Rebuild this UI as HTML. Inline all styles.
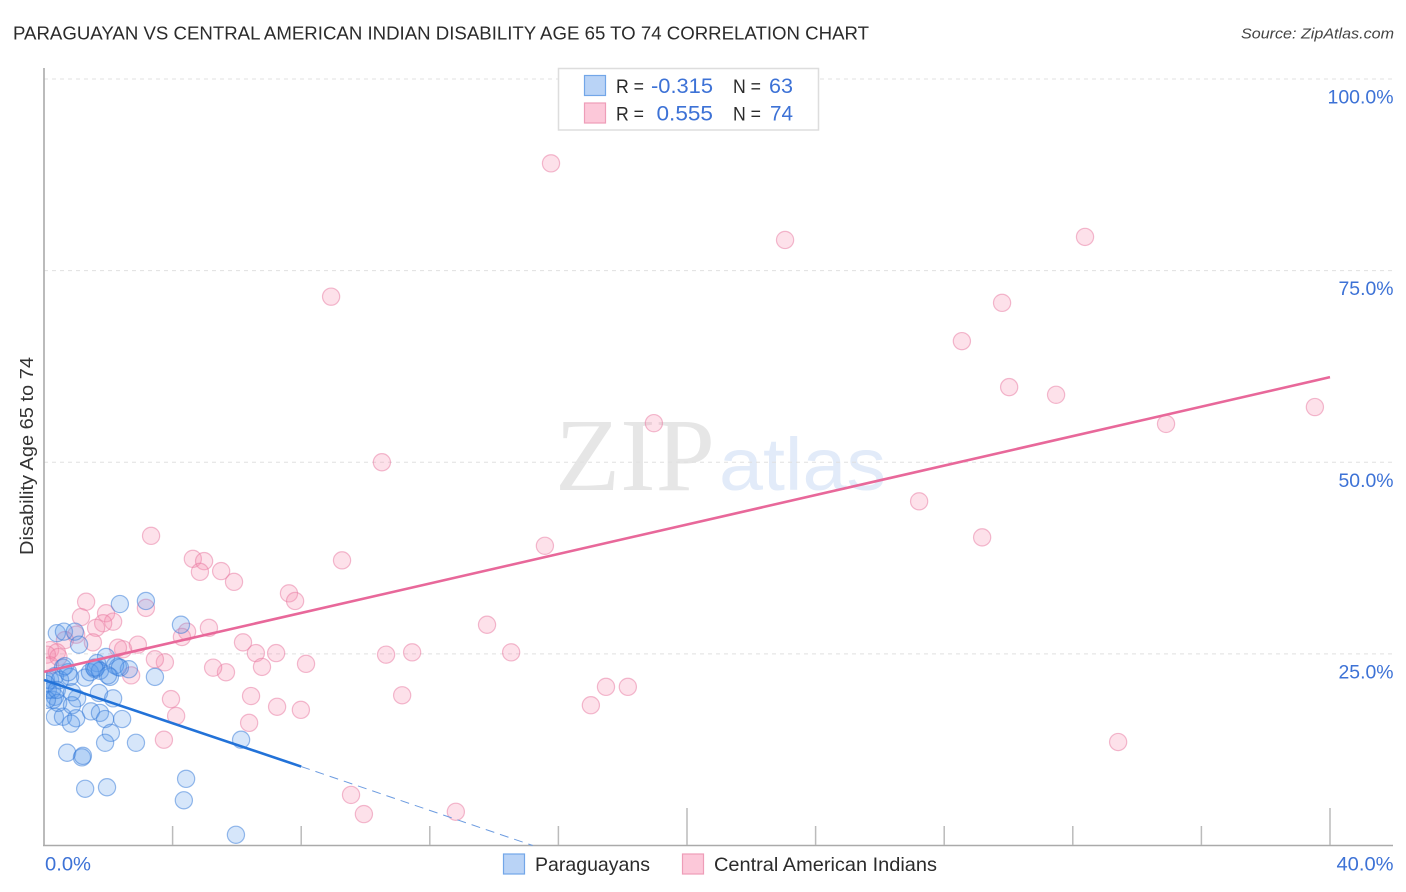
<!DOCTYPE html>
<html lang="en">
<head>
<meta charset="utf-8">
<title>Paraguayan vs Central American Indian Disability Age 65 to 74 Correlation Chart</title>
<style>
html,body{margin:0;padding:0;background:#fff;}
svg{display:block;font-family:"Liberation Sans",Arial,sans-serif;}
</style>
</head>
<body>
<svg id="chart" width="1406" height="892" viewBox="0 0 1406 892" xmlns="http://www.w3.org/2000/svg">
  <defs>
    <clipPath id="plot-clip"><rect x="46" y="60" width="1350" height="785"/></clipPath>
  </defs>
  <rect x="0" y="0" width="1406" height="892" fill="#ffffff"/>
  <text x="13" y="39.5" font-size="18.5" fill="#2b2b2b" textLength="856" lengthAdjust="spacingAndGlyphs">PARAGUAYAN VS CENTRAL AMERICAN INDIAN DISABILITY AGE 65 TO 74 CORRELATION CHART</text>
  <text x="1241" y="38.5" font-size="15" font-style="italic" fill="#444" textLength="153" lengthAdjust="spacingAndGlyphs">Source: ZipAtlas.com</text>

  <g id="watermark">
    <text x="555" y="490" font-family="'Liberation Serif',serif" font-size="104" fill="#e6e6e6" textLength="160" lengthAdjust="spacingAndGlyphs">ZIP</text>
    <text x="719" y="490" font-size="74" fill="#e2ebf9" textLength="167" lengthAdjust="spacingAndGlyphs">atlas</text>
  </g>

  <g id="grid"></g>
  <g id="axes"></g>
  <g clip-path="url(#plot-clip)">
    <g id="points-pink"></g>
    <g id="points-blue"></g>
  </g>
  <g id="lines"></g>
  <g id="labels"></g>

  <text transform="translate(33,456) rotate(-90)" text-anchor="middle" font-size="18" fill="#333" textLength="198" lengthAdjust="spacingAndGlyphs">Disability Age 65 to 74</text>

  <g>
    <rect x="558.5" y="68.5" width="260" height="61.5" fill="#ffffff" stroke="#dddddd" stroke-width="1.5"/>
    <rect x="584.5" y="75.5" width="21" height="20" fill="#b9d3f6" stroke="#72a6e8" stroke-width="1.2"/>
    <rect x="584.5" y="103" width="21" height="20" fill="#fcc8d9" stroke="#ee9db8" stroke-width="1.2"/>
    <text x="616" y="93" font-size="19.5" fill="#2b2b2b" textLength="28" lengthAdjust="spacingAndGlyphs">R =</text>
    <text x="651" y="93" font-size="21" fill="#3d72d6" textLength="62" lengthAdjust="spacingAndGlyphs">-0.315</text>
    <text x="733" y="93" font-size="19.5" fill="#2b2b2b" textLength="28" lengthAdjust="spacingAndGlyphs">N =</text>
    <text x="769" y="93" font-size="21" fill="#3d72d6" textLength="24" lengthAdjust="spacingAndGlyphs">63</text>
    <text x="616" y="120.5" font-size="19.5" fill="#2b2b2b" textLength="28" lengthAdjust="spacingAndGlyphs">R =</text>
    <text x="656.5" y="120.5" font-size="21" fill="#3d72d6" textLength="56.5" lengthAdjust="spacingAndGlyphs">0.555</text>
    <text x="733" y="120.5" font-size="19.5" fill="#2b2b2b" textLength="28" lengthAdjust="spacingAndGlyphs">N =</text>
    <text x="770" y="120.5" font-size="21" fill="#3d72d6" textLength="23" lengthAdjust="spacingAndGlyphs">74</text>
  </g>

  <g>
    <rect x="503.5" y="854" width="21" height="20" fill="#b9d3f6" stroke="#72a6e8" stroke-width="1.2"/>
    <text x="535" y="871" font-size="19.5" fill="#2b2b2b" textLength="115" lengthAdjust="spacingAndGlyphs">Paraguayans</text>
    <rect x="682.5" y="854" width="21" height="20" fill="#fcc8d9" stroke="#ee9db8" stroke-width="1.2"/>
    <text x="714" y="871" font-size="19.5" fill="#2b2b2b" textLength="223" lengthAdjust="spacingAndGlyphs">Central American Indians</text>
  </g>
</svg>

<script>
// ---- chart data (percent units) ----
const yTickValues = [25, 50, 75, 100];
const yTickLabels = ["25.0%", "50.0%", "75.0%", "100.0%"];
const xMinorTicks = [4, 8, 12, 16, 24, 28, 32, 36];
const xMajorTicks = [20, 40];
const xEndLabels = ["0.0%", "40.0%"];

const paraguayansX = [2.36,3.17,4.26,0.40,0.62,0.96,1.09,1.93,1.65,1.59,2.30,2.64,3.45,2.05,1.28,0.59,0.81,1.71,2.15,1.03,0.28,0.34,0.59,1.00,1.46,1.74,1.90,2.43,0.84,2.08,1.90,2.86,0.72,1.18,1.21,1.28,1.96,4.42,4.35,6.13,5.97,0.06,0.19,0.34,0.50,0.12,0.25,0.34,0.06,0.44,0.09,0.87,0.65,0.75,1.43,1.62,1.74,2.21,2.36,1.56,1.99,0.40,0.87];
const paraguayansY = [31.5,31.9,28.8,27.7,27.9,27.9,26.2,24.6,23.8,23.0,23.3,23.0,22.0,22.0,21.9,23.2,22.0,19.9,19.2,19.2,19.0,16.8,16.8,16.6,17.5,17.3,16.5,16.5,15.9,14.7,13.4,13.4,12.1,11.5,11.7,7.4,7.6,8.7,5.9,13.8,1.4,21.6,21.6,22.1,21.6,20.3,20.3,19.4,21.1,18.6,19.0,18.3,23.4,22.6,22.6,23.2,22.8,23.5,23.2,23.2,22.2,20.3,20.0];

const indiansX = [15.77,23.05,32.38,8.93,29.80,28.55,30.02,31.48,39.53,34.90,18.97,10.51,27.22,29.18,3.33,15.58,9.27,4.63,4.98,4.85,5.51,5.91,7.62,7.81,1.31,3.17,1.15,1.93,2.15,1.84,1.62,5.13,4.45,4.29,13.78,6.19,14.53,11.45,10.64,6.59,7.22,8.15,6.78,5.66,5.26,3.76,3.45,2.92,2.46,2.30,2.71,1.52,1.00,0.65,0.19,0.40,0.09,0.19,0.45,11.14,17.48,18.16,17.01,7.25,7.99,6.44,3.95,4.11,6.38,3.73,33.41,9.55,9.95,12.81];
const indiansY = [89.0,79.0,79.4,71.6,70.8,65.8,59.8,58.8,57.2,55.0,55.1,50.0,44.9,40.2,40.4,39.1,37.2,37.4,37.1,35.7,35.8,34.4,32.9,31.9,31.8,31.0,29.8,30.3,29.2,29.0,28.4,28.4,27.9,27.2,28.8,26.5,25.2,25.2,24.9,25.1,25.1,23.7,23.3,22.6,23.2,23.9,24.3,26.2,25.6,25.8,22.2,26.5,27.5,26.8,25.5,25.2,24.9,23.5,24.6,19.6,20.7,20.7,18.3,18.1,17.7,19.5,19.1,16.9,16.0,13.8,13.5,6.6,4.1,4.4];

const paraguayansTrendX = [0, 8];
const paraguayansTrendY = [21.6, 10.3];
const paraguayansDashX = [8, 15.2];
const paraguayansDashY = [10.3, 0];
const indiansTrendX = [0, 40];
const indiansTrendY = [22.65, 61.1];

// ---- axis functions ----
const NS = "http://www.w3.org/2000/svg";
function sx(v){ return 44 + v * 32.15; }
function sy(v){ return 845.5 - v * 7.665; }
function make(tag, attrs, parent){
  const el = document.createElementNS(NS, tag);
  for (const k in attrs) el.setAttribute(k, attrs[k]);
  parent.appendChild(el);
  return el;
}
function labelWidth(s){ return s.length === 6 ? 66 : 55; }

const grid = document.getElementById("grid");
const axes = document.getElementById("axes");
const labels = document.getElementById("labels");
const blue = document.getElementById("points-blue");
const pink = document.getElementById("points-pink");
const lines = document.getElementById("lines");

// gridlines + y tick labels
yTickValues.forEach(function(v, i){
  const g = make("line", {x1:44, x2:1393, y1:sy(v), y2:sy(v), stroke:"#e0e0e0", "stroke-width":1, "stroke-dasharray":"4 4"}, grid);
  
  
  const t = make("text", {x:1393.5, y:sy(v) + 24.5, "text-anchor":"end", "font-size":19, fill:"#3d72d6", textLength:labelWidth(yTickLabels[i]), lengthAdjust:"spacingAndGlyphs"}, labels);
  t.textContent = yTickLabels[i];
  
  
});

// axes
const yAxis = make("line", {x1:44, x2:44, y1:68, y2:846, stroke:"#aaaaaa", "stroke-width":1.6}, axes);


const xAxis = make("line", {x1:43, x2:1393, y1:845.5, y2:845.5, stroke:"#aaaaaa", "stroke-width":1.6}, axes);



xMinorTicks.forEach(function(v){
  const k = make("line", {x1:sx(v), x2:sx(v), y1:826, y2:845, stroke:"#bbbbbb", "stroke-width":1.5}, axes);
  
  
});
xMajorTicks.forEach(function(v){
  const k = make("line", {x1:sx(v), x2:sx(v), y1:808, y2:845, stroke:"#bbbbbb", "stroke-width":1.5}, axes);
  
  
});

const xStart = make("text", {x:45, y:870.5, "font-size":19, fill:"#3d72d6", textLength:46, lengthAdjust:"spacingAndGlyphs"}, labels);
xStart.textContent = xEndLabels[0];


const xEnd = make("text", {x:1393.5, y:870.5, "text-anchor":"end", "font-size":19, fill:"#3d72d6", textLength:57, lengthAdjust:"spacingAndGlyphs"}, labels);
xEnd.textContent = xEndLabels[1];



// points
indiansX.forEach(function(v, i){
  const c = make("circle", {cx:sx(v), cy:sy(indiansY[i]), r:8.6, fill:"rgba(247,143,178,0.27)", stroke:"rgba(232,120,160,0.5)", "stroke-width":1.2}, pink);
  
  
});
paraguayansX.forEach(function(v, i){
  const c = make("circle", {cx:sx(v), cy:sy(paraguayansY[i]), r:8.6, fill:"rgba(90,155,235,0.25)", stroke:"rgba(50,120,215,0.5)", "stroke-width":1.2}, blue);
  
  
});

// trend lines
const trendPink = make("line", {x1:sx(indiansTrendX[0]), y1:sy(indiansTrendY[0]), x2:sx(indiansTrendX[1]), y2:sy(indiansTrendY[1]), stroke:"#e8689a", "stroke-width":2.6}, lines);


const trendBlue = make("line", {x1:sx(paraguayansTrendX[0]), y1:sy(paraguayansTrendY[0]), x2:sx(paraguayansTrendX[1]), y2:sy(paraguayansTrendY[1]), stroke:"#2272d8", "stroke-width":2.6}, lines);


const trendDash = make("line", {x1:sx(paraguayansDashX[0]), y1:sy(paraguayansDashY[0]), x2:sx(paraguayansDashX[1]), y2:sy(paraguayansDashY[1]), stroke:"#6d9ce0", "stroke-width":1, "stroke-dasharray":"9 6"}, lines);


</script>
</body>
</html>
